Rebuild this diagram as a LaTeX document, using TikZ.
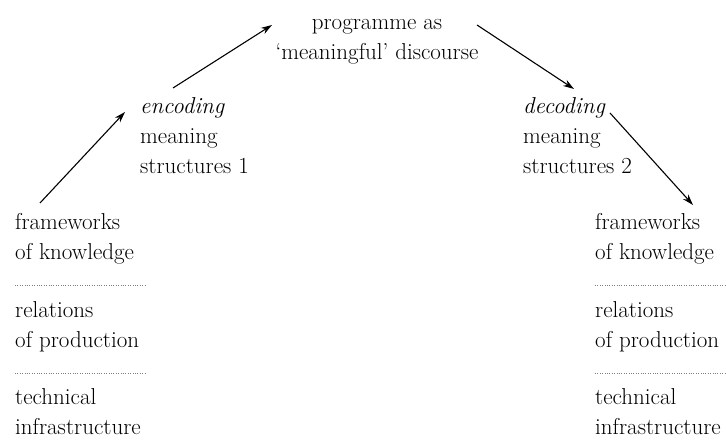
\documentclass[tikz,border=0pt]{standalone}
\usepackage{fontspec}
\usetikzlibrary{positioning,arrows.meta}
\begin{document}
\begin{tikzpicture}[>={Stealth[length=11pt,width=7pt]}, x=1pt, y=1pt,
    every node/.style={inner sep=0pt, align=left, anchor=base west,
      font=\fontsize{23}{30}\selectfont},
    flow/.style={->, line width=1.1pt},
    sepline/.style={gray, line width=0.6pt, dash pattern=on 0.9pt off 1.5pt}]
\useasboundingbox (0,0) rectangle (726,441);
\node[anchor=base, align=center] (prog) at (377,381) {programme as\\`meaningful' discourse};
\node (enc) at (140,267) {\textit{encoding}\\meaning\\structures 1};
\node (dec) at (523,267) {\textit{decoding}\\meaning\\structures 2};
% left column
\node (fk1) at (15,181) {frameworks\\of knowledge};
\node (rp1) at (15,93) {relations\\of production};
\node (ti1) at (15,6) {technical\\infrastructure};
% right column
\node (fk2) at (595,181) {frameworks\\of knowledge};
\node (rp2) at (595,93) {relations\\of production};
\node (ti2) at (595,6) {technical\\infrastructure};

\draw[sepline] (15,156) -- (145,156);
\draw[sepline] (15,68) -- (145,68);
\draw[sepline] (595,156) -- (725,156);
\draw[sepline] (595,68) -- (725,68);

\draw[flow] ([shift={(25,57)}]fk1.base west) -- ([shift={(-15,62)}]enc.base west);
\draw[flow] ([shift={(33,86)}]enc.base west) -- ([shift={(-105,35)}]prog.base);
\draw[flow] ([shift={(100,35)}]prog.base) -- ([shift={(51,85)}]dec.base west);
\draw[flow] ([shift={(87,61)}]dec.base west) -- ([shift={(98,55)}]fk2.base west);
\end{tikzpicture}
\end{document}
